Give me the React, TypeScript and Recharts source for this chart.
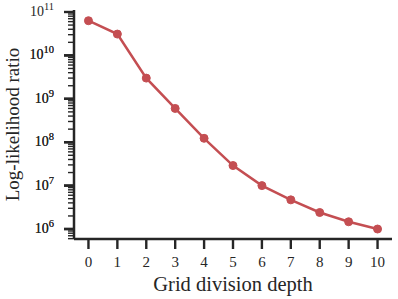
import { Line, LineChart, XAxis, YAxis } from "recharts"

const depths = [0, 1, 2, 3, 4, 5, 6, 7, 8, 9, 10]
const ratios = [6.3e10, 3.1e10, 3.0e9, 6.0e8, 1.23e8, 2.9e7, 1.0e7, 4.7e6, 2.4e6, 1.47e6, 1.0e6]
const decades = [6, 7, 8, 9, 10, 11]
const xTicks = [0, 1, 2, 3, 4, 5, 6, 7, 8, 9, 10]

const chartData = depths.map((d, i) => ({ depth: d, ratio: ratios[i] }))

// major + minor ticks for the log axis
const yTicks: number[] = []
decades.forEach((e) => {
  for (let m = 1; m < 10; m++) yTicks.push(m * Math.pow(10, e - 1))
})
decades.forEach((e) => yTicks.push(Math.pow(10, e)))
const yMin = Math.pow(10, 5.77)
const yMax = Math.pow(10, 11.046)
const yTickList = yTicks.filter((v) => v >= yMin && v <= yMax).sort((a, b) => a - b)

const ink = "#262626"
const font = "'Liberation Serif', serif"

const YTick = (props: any) => {
  const { x, y, payload } = props
  const v = payload.value
  const exp = Math.round(Math.log10(v))
  const major = Math.abs(Math.log10(v) - exp) < 1e-6
  const len = major ? 10 : 6
  return (
    <g>
      <line x1={x - len} x2={x} y1={y} y2={y} stroke={ink} strokeWidth={major ? 2.4 : 1.4} />
      {major && (
        <text x={x - 20} y={y + 4} textAnchor="end" fill={ink} fontFamily={font} fontSize={14}>
          10
          <tspan fontSize={10.5} dy={-6}>{exp}</tspan>
        </text>
      )}
    </g>
  )
}

const XTick = (props: any) => {
  const { x, y, payload } = props
  return (
    <g>
      <line x1={x} x2={x} y1={y} y2={y + 10} stroke={ink} strokeWidth={2.4} />
      <text x={x} y={y + 28} textAnchor="middle" fill={ink} fontFamily={font} fontSize={15}>
        {payload.value}
      </text>
    </g>
  )
}

const App = () => {
  return (
    <div style={{ position: "absolute", top: 0, left: 0 }}>
      <LineChart width={398} height={299} data={chartData} margin={{ top: 10, right: 6, left: 0, bottom: 0 }}>
        <XAxis
          dataKey="depth"
          type="number"
          domain={[-0.5, 10.5]}
          ticks={xTicks}
          tickLine={false}
          tickSize={0}
          tickMargin={0}
          axisLine={{ stroke: ink, strokeWidth: 2.5 }}
          height={60}
          tick={<XTick />}
          interval={0}
          label={{ value: "Grid division depth", position: "insideBottom", offset: 8, fill: ink, fontFamily: font, fontSize: 20.5 }}
        />
        <YAxis
          dataKey="ratio"
          scale="log"
          type="number"
          domain={[yMin, yMax]}
          allowDataOverflow
          ticks={yTickList}
          tickLine={false}
          tickSize={0}
          tickMargin={0}
          axisLine={{ stroke: ink, strokeWidth: 2.5 }}
          width={74}
          tick={<YTick />}
          interval={0}
          label={{ value: "Log-likelihood ratio", angle: -90, position: "insideLeft", offset: 12, fill: ink, fontFamily: font, fontSize: 19, style: { textAnchor: "middle" } }}
        />
        <Line
          dataKey="ratio"
          stroke="#c44e52"
          strokeWidth={2.5}
          dot={{ r: 4, fill: "#c44e52", stroke: "#c44e52", strokeWidth: 1 }}
          isAnimationActive={false}
        />
      </LineChart>
    </div>
  )
}

export default App
